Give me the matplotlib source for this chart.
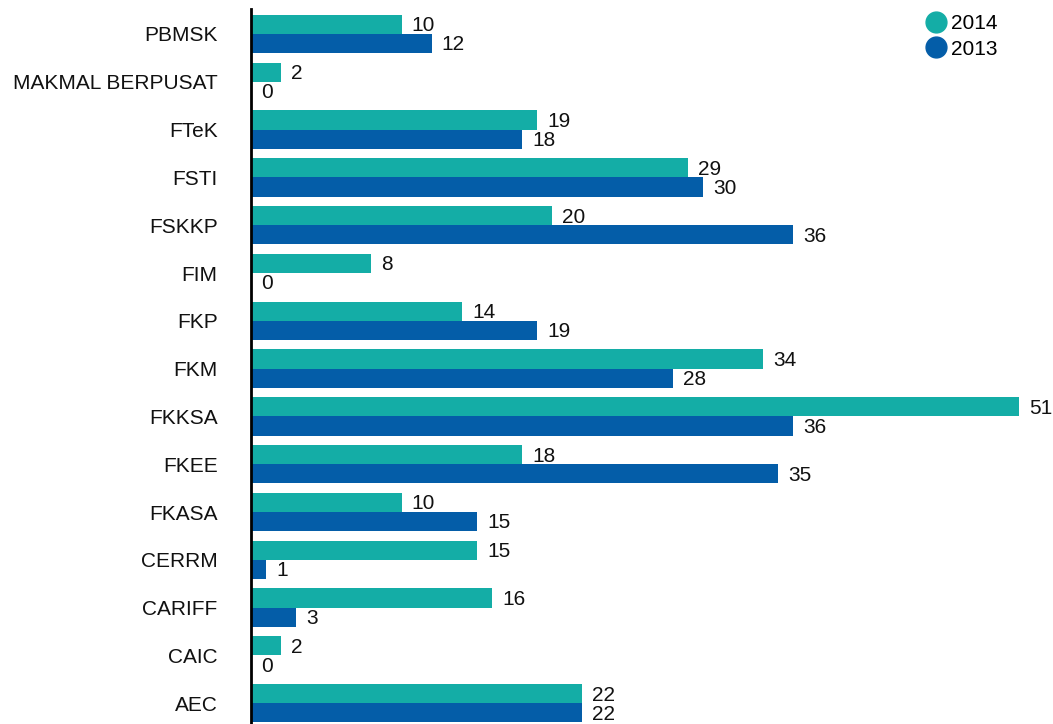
import matplotlib
matplotlib.use("Agg")
import matplotlib.pyplot as plt
from matplotlib.lines import Line2D
import numpy as np

plt.rcParams['font.family'] = ['Liberation Sans', 'DejaVu Sans']

categories = ["PBMSK", "MAKMAL BERPUSAT", "FTeK", "FSTI", "FSKKP", "FIM", "FKP",
              "FKM", "FKKSA", "FKEE", "FKASA", "CERRM", "CARIFF", "CAIC", "AEC"]
values_2014 = [10, 2, 19, 29, 20, 8, 14, 34, 51, 18, 10, 15, 16, 2, 22]
values_2013 = [12, 0, 18, 30, 36, 0, 19, 28, 36, 35, 15, 1, 3, 0, 22]
series_names = ["2014", "2013"]
colors = ["#14ADA6", "#045DA8"]

W, H = 1053, 724
fig = plt.figure(figsize=(W / 100, H / 100), dpi=100)
ax = fig.add_axes([251 / W, 0, (W - 251) / W, (H - 9) / H])

y = np.arange(len(categories))
bh = 0.4
b1 = ax.barh(y - bh / 2, values_2014, height=bh, color=colors[0], linewidth=0)
b2 = ax.barh(y + bh / 2, values_2013, height=bh, color=colors[1], linewidth=0)

for bars, vals in ((b1, values_2014), (b2, values_2013)):
    for rect, v in zip(bars, vals):
        ax.annotate(str(v), (rect.get_width(), rect.get_y() + rect.get_height() / 2),
                    xytext=(7.3, -1), textcoords="offset points",
                    ha="left", va="center", fontsize=15, color="#111111")

ax.set_xlim(0, (W - 251) / 15.06)
ax.set_ylim(14.435, -0.523)
ax.set_yticks(y)
ax.set_yticklabels(categories, fontsize=15, color="#111111")
ax.tick_params(axis="y", length=0, pad=24)
ax.set_xticks([])
for s in ("top", "right", "bottom"):
    ax.spines[s].set_visible(False)
ax.spines["left"].set_linewidth(2)
ax.spines["left"].set_color("black")

handles = [Line2D([], [], linestyle="none", marker="o", markersize=15,
                  markerfacecolor=c, markeredgecolor=c) for c in colors]
fig.legend(handles, series_names, loc="upper left",
           bbox_to_anchor=(921 / W, 1 - 10 / H), frameon=False, fontsize=15,
           handlelength=1.0, handletextpad=0.25, labelspacing=0.31,
           borderpad=0.2, borderaxespad=0)

fig.savefig("out.png", dpi=100)
